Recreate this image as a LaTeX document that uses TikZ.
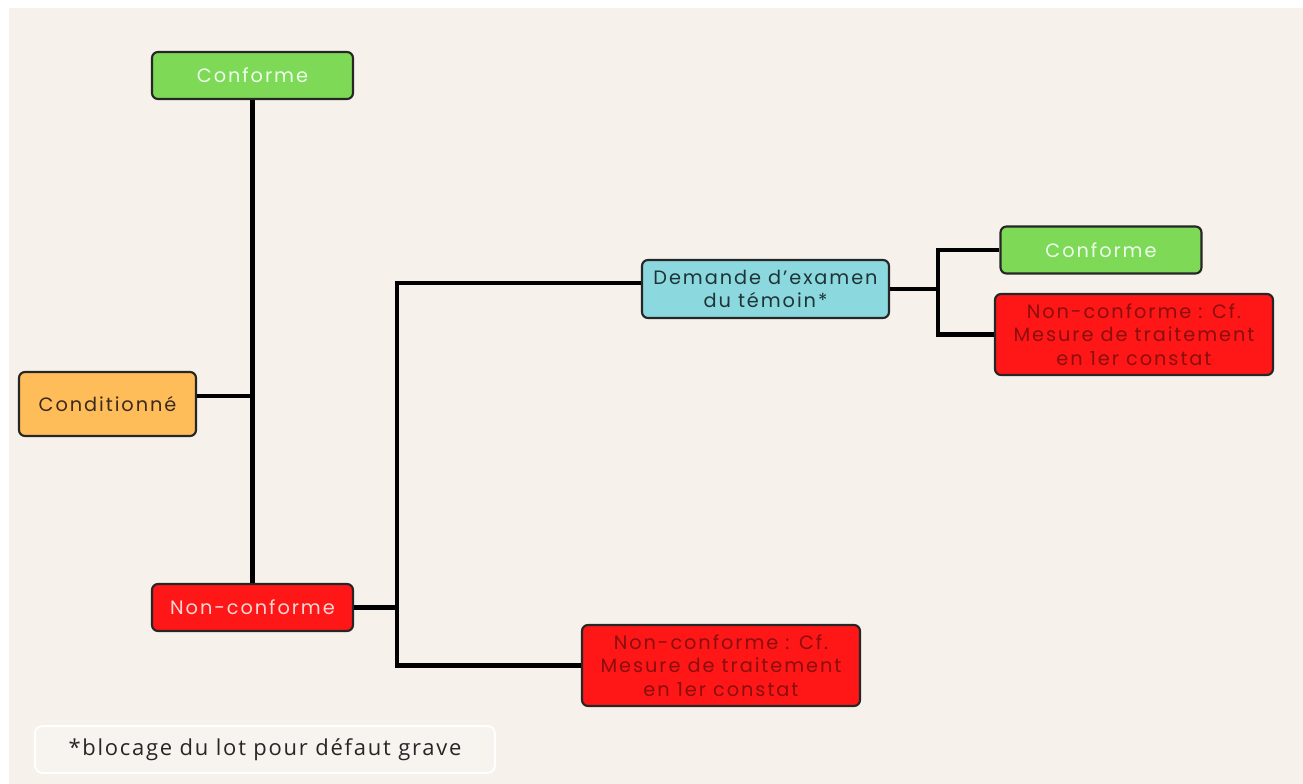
\documentclass[tikz,border=0pt]{standalone}
\usepackage{fontspec}
\setmainfont{Poppins}[LetterSpace=10.0, Ligatures=ResetAll]
\newfontfamily\notefont{Open Sans}[LetterSpace=8.0]
\usepackage{tikz}
\usetikzlibrary{positioning, calc}

\definecolor{bgbeige}{HTML}{F6F2EB}
\definecolor{notefill}{HTML}{F7F4EF}
\definecolor{okgreen}{HTML}{7ED957}
\definecolor{condorange}{HTML}{FFBD59}
\definecolor{ncred}{HTML}{FF1616}
\definecolor{askcyan}{HTML}{8BD8DF}
\definecolor{darkbrown}{HTML}{3B2A1E}
\definecolor{darkred}{HTML}{8A0F0F}
\definecolor{palepink}{HTML}{F8D6D6}
\definecolor{darkteal}{HTML}{1E3436}

\begin{document}
\begin{tikzpicture}[ box/.style={draw=black!85, line width=1.2pt, rounded
      corners=0.12cm, align=center, inner sep=0pt,
      font=\fontsize{11pt}{13.5pt}\selectfont}, okbox/.style={box,
      fill=okgreen, text=white!92!green, minimum width=4.02cm, minimum
      height=0.94cm}, ncbox/.style={box, fill=ncred, text=palepink, minimum
      width=4.02cm, minimum height=0.94cm}, traitbox/.style={box, fill=ncred,
      text=darkred, minimum width=5.56cm, minimum height=1.62cm},
      link/.style={line width=2.4pt, black} ]
    % Page and background
    \useasboundingbox (0,0) rectangle (26.06,-15.68);
    \fill[white] (0,0) rectangle (26.06,-15.68);
    \fill[bgbeige] (0.18,-0.16) rectangle (26.06,-15.68);

    % First level
    \node[okbox] (conf) at (5.05,-1.51) {Conforme};
    \node[box, fill=condorange, text=darkbrown, minimum width=3.54cm, minimum
    height=1.28cm] (cond) at (2.15,-8.08) {Conditionné}; \node[ncbox]
    (nonconf) at (5.05,-12.15) {Non-conforme};

    % Second level
    \node[box, fill=askcyan, text=darkteal, minimum width=4.94cm, minimum
    height=1.16cm] (demande) at (15.31,-5.78) {Demande d'examen\\du
    témoin*}; \node[traitbox] (trait) at (14.42,-13.31) {Non-conforme :
    Cf.\\Mesure de traitement\\en 1er constat};

    % Third level
    \node[okbox] (conftem) at (22.02,-5.0) {Conforme}; \node[traitbox]
    (traittem) at (22.68,-6.69) {Non-conforme : Cf.\\Mesure de
    traitement\\en 1er constat};

    % Footnote
    \node[draw=white, line width=1pt, fill=notefill, rounded corners=0.15cm,
    minimum width=9.2cm, minimum height=0.94cm, text=black!85,
    font=\notefont\fontsize{12.5pt}{14pt}\selectfont] (note) at (5.3,-14.99)
    {*blocage du lot pour défaut grave};

    % Branch points
    \coordinate (split) at (7.94,-12.15); \coordinate (splittem) at
    (18.76,-5.78);

    % Connectors
    \draw[link] (conf) -- (nonconf); \draw[link] ([yshift=0.16cm]cond.east)
    -- ([yshift=0.16cm]cond.east -| conf); \draw[link] (nonconf) -- (split);
    \draw[link] ([yshift=0.12cm]demande.west) -| (split) |- (trait.west);
    \draw[link] (demande) -- (splittem); \draw[link] (conftem.west) -|
    (splittem) |- (traittem.west);
\end{tikzpicture}
\end{document}
